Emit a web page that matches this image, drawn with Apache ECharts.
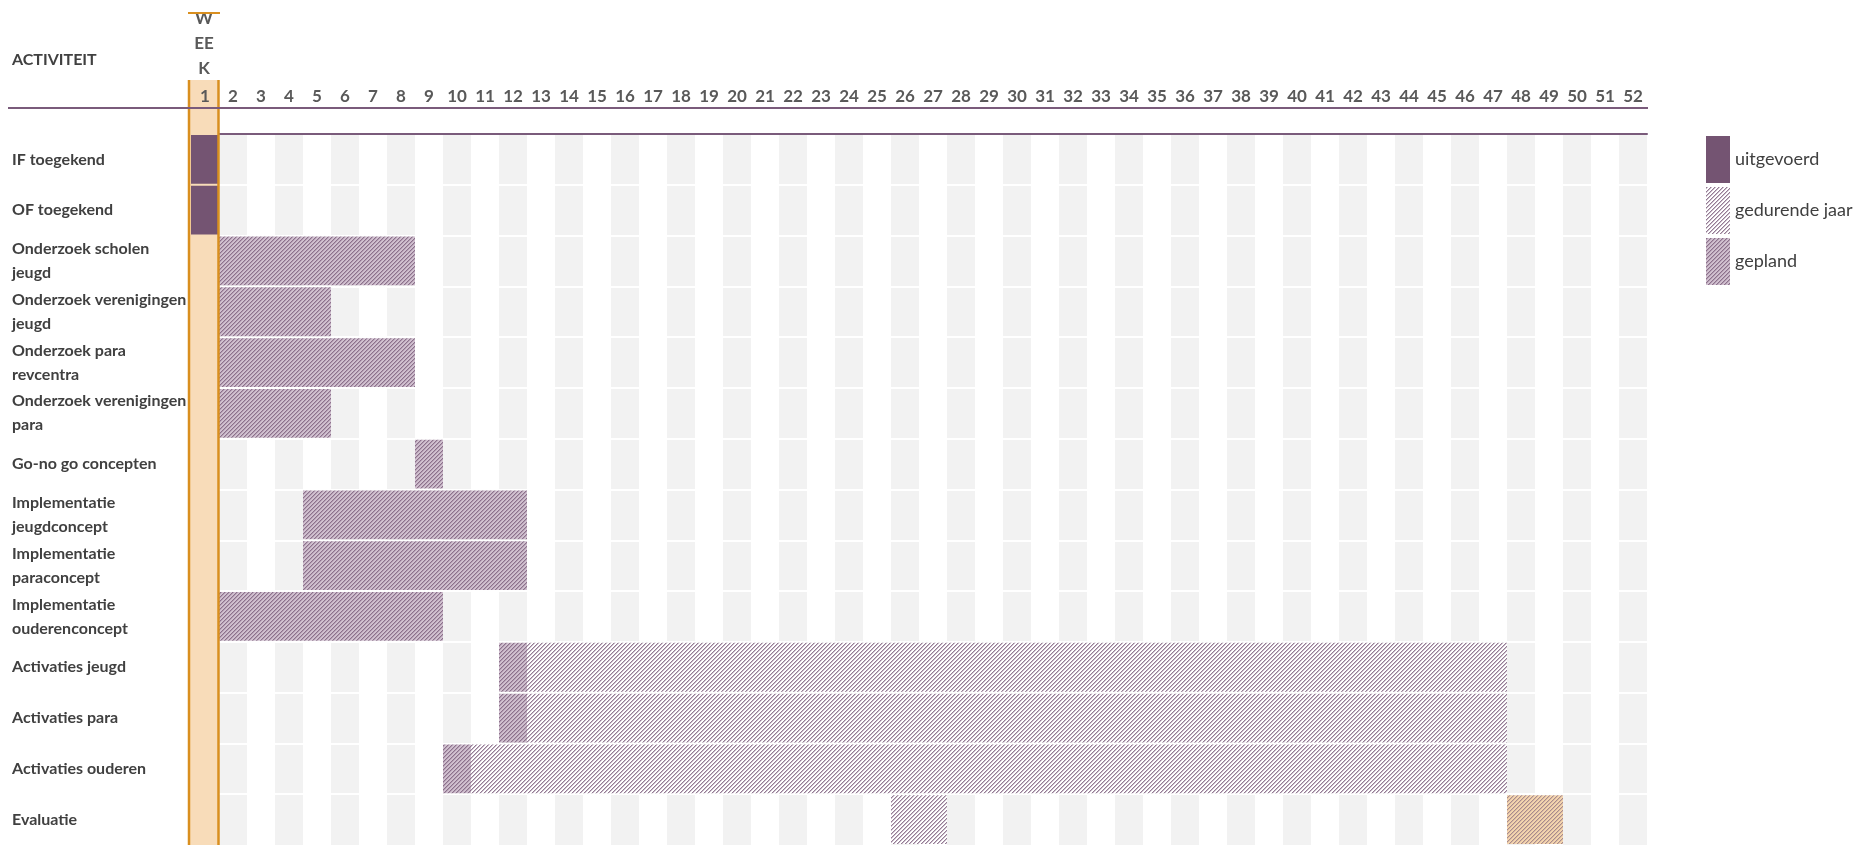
<!DOCTYPE html>
<html><head><meta charset="utf-8">
<script src="https://cdn.jsdelivr.net/npm/echarts@6/dist/echarts.min.js"></script>
<style>html,body{margin:0;padding:0;background:#fff}#c{width:1864px;height:845px}</style>
</head><body><div id="c"></div>
<script>
// ---- data ----
const activities = ['IF toegekend','OF toegekend','Onderzoek scholen\njeugd','Onderzoek verenigingen\njeugd','Onderzoek para\nrevcentra','Onderzoek verenigingen\npara','Go-no go concepten','Implementatie\njeugdconcept','Implementatie\nparaconcept','Implementatie\nouderenconcept','Activaties jeugd','Activaties para','Activaties ouderen','Evaluatie'];
const weeks = ['1','2','3','4','5','6','7','8','9','10','11','12','13','14','15','16','17','18','19','20','21','22','23','24','25','26','27','28','29','30','31','32','33','34','35','36','37','38','39','40','41','42','43','44','45','46','47','48','49','50','51','52'];
const currentWeek = [[1, 0]];
// [rowIndex, startWeek, endWeek]
const uitgevoerd = [[0,1,1],[1,1,1]];
const gedurendeJaar = [[10,13,47],[11,13,47],[12,11,47],[13,26,27]];
const gepland = [[2,2,8],[3,2,5],[4,2,8],[5,2,5],[6,9,9],[7,5,12],[8,5,12],[9,2,9],[10,12,12],[11,12,12],[12,10,10]];
const evaluatieGepland = [[13,48,49]];

// ---- hatch patterns ----
function makePattern(colors) {
  const c = document.createElement('canvas'); c.width = 4; c.height = 4;
  const ctx = c.getContext('2d');
  for (let y = 0; y < 4; y++) for (let x = 0; x < 4; x++) {
    ctx.fillStyle = colors[(x + y) % 4]; ctx.fillRect(x, y, 1, 1);
  }
  return { image: c, repeat: 'repeat' };
}
const PURPLE = '#745472';
const LINE = '#7a5b7b';
const ORANGE = '#d98f1f';
const patGepland = makePattern(['#8c718c', '#b39eb2', '#d0c0cf', '#d0c0cf']);
const patJaar = makePattern(['#947c94', '#cbbccb', '#ffffff', '#ffffff']);
const patEval = makePattern(['#a98b8c', '#d8b9a2', '#f4d5ae', '#f4d5ae']);

function barRenderer(fill) {
  return function (params, api) {
    const row = api.value(0), s = api.value(1), e = api.value(2);
    const p0 = api.coord([s - 1, row]);
    const p1 = api.coord([e, row]);
    const h = api.size([0, 1])[1];
    return { type: 'rect', shape: { x: p0[0], y: p0[1] - h / 2 + 1, width: p1[0] - p0[0], height: h - 2 }, style: { fill: fill } };
  };
}

const chart = echarts.init(document.getElementById('c'), null, { renderer: 'canvas' });
const font = 'Lato';
chart.setOption({
  animation: false,
  grid: { left: 191, top: 134, width: 1456, height: 714 },
  xAxis: [
    { type: 'category', data: weeks, position: 'top', boundaryGap: true, z: 0,
      axisLine: { show: true, lineStyle: { color: LINE, width: 2 } }, axisTick: { show: false }, axisLabel: { show: false },
      splitLine: { show: false }, splitArea: { show: true, interval: 0, areaStyle: { color: ['#ffffff', '#f2f2f2'] } } },
    { type: 'category', data: weeks, position: 'top', boundaryGap: true, z: 10,
      axisLine: { show: false }, axisTick: { show: false }, splitLine: { show: false }, splitArea: { show: false },
      axisLabel: { interval: 0, margin: 29, fontFamily: font, fontWeight: 'bold', fontSize: 17, lineHeight: 17, color: '#595959' } },
    { type: 'value', min: 0, max: 52, show: false, splitLine: { show: false } }
  ],
  yAxis: { type: 'category', data: activities, inverse: true, z: 1,
    axisLine: { show: false }, axisTick: { show: false },
    axisLabel: { interval: 0, align: 'left', margin: 179, fontFamily: font, fontWeight: 'bold', fontSize: 16, lineHeight: 24, color: '#404040' },
    splitLine: { show: true, interval: 0, showMinLine: false, showMaxLine: false, lineStyle: { color: '#ffffff', width: 2 } } },
  legend: { data: ['uitgevoerd', 'gedurende jaar', 'gepland'], orient: 'vertical', left: 1706, top: 136,
    itemWidth: 24, itemHeight: 47, itemGap: 4, padding: 0, icon: 'rect', selectedMode: false,
    textStyle: { fontFamily: font, fontSize: 18, color: '#404040' } },
  graphic: [
    { type: 'line', z: 100, shape: { x1: 8, y1: 108, x2: 1648, y2: 108 }, style: { stroke: LINE, lineWidth: 2 } },
    { type: 'line', z: 100, shape: { x1: 188, y1: 13, x2: 220, y2: 13 }, style: { stroke: ORANGE, lineWidth: 2 } },
    { type: 'text', z: 90, x: 204, y: 44, style: { text: 'W\nEE\nK', align: 'center', verticalAlign: 'middle', lineHeight: 25, font: 'bold 17px Lato', fill: '#595959' } },
    { type: 'text', z: 90, x: 12, y: 60, style: { text: 'ACTIVITEIT', align: 'left', verticalAlign: 'middle', font: 'bold 16px Lato', fill: '#404040' } }
  ],
  series: [
    { type: 'custom', name: 'weekkolom', xAxisIndex: 2, z: 2, silent: true, data: currentWeek, encode: { x: 0, y: 1 },
      renderItem: function (params, api) {
        const cs = params.coordSys;
        const w = api.value(0);
        const x0 = api.coord([w - 1, 0])[0], x1 = api.coord([w, 0])[0];
        return { type: 'rect', shape: { x: x0 - 3, y: cs.y - 54, width: x1 - x0 + 3, height: cs.height + 54 }, style: { fill: '#f8dcb9' } };
      } },
    { type: 'custom', name: 'uitgevoerd', xAxisIndex: 2, z: 3, data: uitgevoerd, encode: { x: [1, 2], y: 0 },
      itemStyle: { color: PURPLE }, renderItem: barRenderer(PURPLE) },
    { type: 'custom', name: 'gedurende jaar', xAxisIndex: 2, z: 3, data: gedurendeJaar, encode: { x: [1, 2], y: 0 },
      itemStyle: { color: patJaar }, renderItem: barRenderer(patJaar) },
    { type: 'custom', name: 'gepland', xAxisIndex: 2, z: 3, data: gepland, encode: { x: [1, 2], y: 0 },
      itemStyle: { color: patGepland }, renderItem: barRenderer(patGepland) },
    { type: 'custom', name: 'evaluatie', xAxisIndex: 2, z: 3, data: evaluatieGepland, encode: { x: [1, 2], y: 0 },
      itemStyle: { color: patEval }, renderItem: barRenderer(patEval) },
    { type: 'custom', name: 'weekrand', xAxisIndex: 2, z: 4, silent: true, data: currentWeek, encode: { x: 0, y: 1 },
      renderItem: function (params, api) {
        const cs = params.coordSys;
        const w = api.value(0);
        const x0 = api.coord([w - 1, 0])[0], x1 = api.coord([w, 0])[0];
        const top = cs.y - 54, bot = cs.y + cs.height;
        return { type: 'group', children: [
          { type: 'line', shape: { x1: x0 - 2, y1: top, x2: x0 - 2, y2: bot }, style: { stroke: ORANGE, lineWidth: 2.5 } },
          { type: 'line', shape: { x1: x1 - 0.5, y1: top, x2: x1 - 0.5, y2: bot }, style: { stroke: ORANGE, lineWidth: 2.5 } }
        ] };
      } }
  ]
});
</script></body></html>
